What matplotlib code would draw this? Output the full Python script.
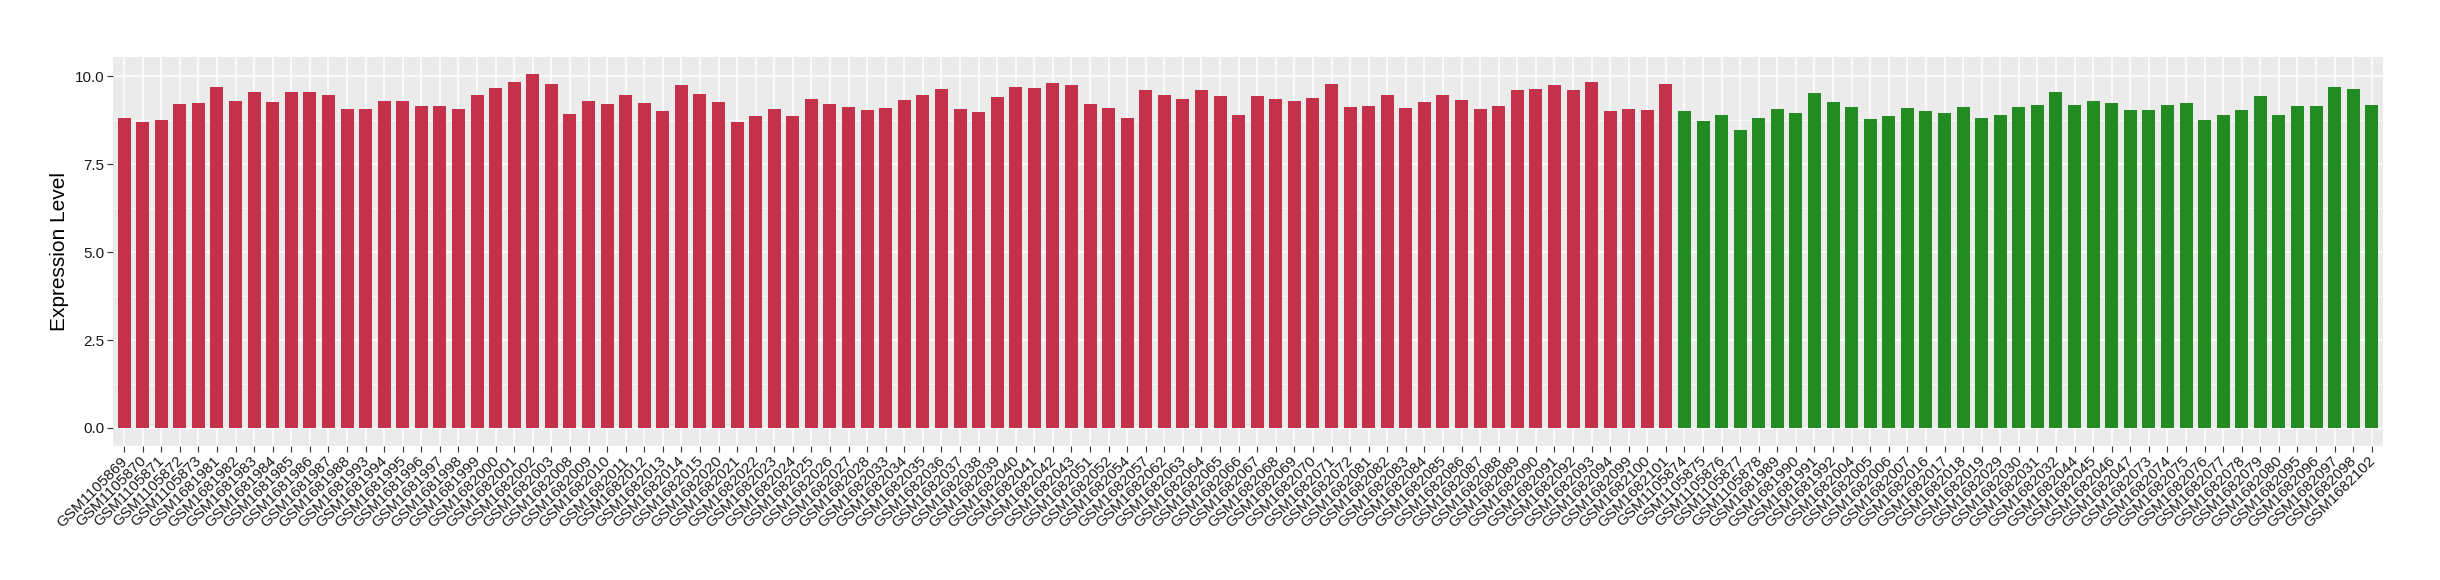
import matplotlib
matplotlib.use("Agg")
import matplotlib.pyplot as plt
import matplotlib.transforms as mtransforms
from matplotlib.ticker import MultipleLocator

# sample ids, in plotting order
red_samples = (
    ["GSM11058%d" % n for n in range(69, 74)]
    + ["GSM16819%02d" % n for n in range(81, 89)]
    + ["GSM1681993", "GSM1681994", "GSM1681995", "GSM1681996", "GSM1681997",
       "GSM1681998", "GSM1681999", "GSM1682000", "GSM1682001", "GSM1682002",
       "GSM1682003"]
    + ["GSM16820%02d" % n for n in range(8, 16)]
    + ["GSM16820%02d" % n for n in range(20, 29)]
    + ["GSM16820%02d" % n for n in range(33, 44)]
    + ["GSM1682051", "GSM1682052", "GSM1682054", "GSM1682057"]
    + ["GSM16820%02d" % n for n in range(62, 73)]
    + ["GSM16820%02d" % n for n in range(81, 95)]
    + ["GSM1682099", "GSM1682100", "GSM1682101"]
)
green_samples = (
    ["GSM11058%d" % n for n in range(74, 79)]
    + ["GSM1681989", "GSM1681990", "GSM1681991", "GSM1681992"]
    + ["GSM16820%02d" % n for n in range(4, 8)]
    + ["GSM16820%02d" % n for n in range(16, 20)]
    + ["GSM16820%02d" % n for n in range(29, 33)]
    + ["GSM16820%02d" % n for n in range(44, 48)]
    + ["GSM16820%02d" % n for n in range(73, 81)]
    + ["GSM16820%02d" % n for n in range(95, 99)]
    + ["GSM1682102"]
)

red_values = [
    8.81, 8.70, 8.75, 9.21, 9.24, 9.69, 9.29, 9.55, 9.26, 9.55,
    9.55, 9.46, 9.07, 9.07, 9.29, 9.29, 9.15, 9.15, 9.07, 9.46,
    9.66, 9.83, 10.06, 9.77, 8.92, 9.29, 9.21, 9.46, 9.24, 9.01,
    9.75, 9.49, 9.26, 8.70, 8.87, 9.07, 8.87, 9.35, 9.21, 9.12,
    9.04, 9.09, 9.32, 9.46, 9.63, 9.07, 8.98, 9.41, 9.69, 9.66,
    9.80, 9.75, 9.21, 9.09, 8.81, 9.60, 9.46, 9.35, 9.60, 9.43,
    8.90, 9.43, 9.35, 9.29, 9.38, 9.77, 9.12, 9.15, 9.46, 9.09,
    9.26, 9.46, 9.32, 9.07, 9.15, 9.60, 9.63, 9.75, 9.60, 9.83,
    9.01, 9.07, 9.04, 9.77,
]
green_values = [
    9.01, 8.73, 8.90, 8.47, 8.81, 9.07, 8.95, 9.52, 9.26, 9.12,
    8.78, 8.87, 9.09, 9.01, 8.95, 9.12, 8.81, 8.90, 9.12, 9.20,
    9.55, 9.20, 9.30, 9.25, 9.05, 9.05, 9.20, 9.25, 8.75, 8.90,
    9.05, 9.45, 8.90, 9.15, 9.15, 9.70, 9.65, 9.20,
]

RED = "#C3314A"
GREEN = "#228B22"

samples = red_samples + green_samples
values = red_values + green_values
colors = [RED] * len(red_samples) + [GREEN] * len(green_samples)
xs = list(range(1, len(samples) + 1))

plt.rcParams["font.family"] = ["Liberation Sans", "DejaVu Sans"]

fig = plt.figure(figsize=(24.4, 5.8), dpi=100)
ax = fig.add_axes([0.0463, 0.2316, 0.9303, 0.6706])
ax.set_facecolor("#EBEBEB")

ax.bar(xs, values, width=0.7, color=colors, zorder=3)

ax.set_xlim(0.4, len(samples) + 0.6)
ax.set_ylim(-0.503, 10.56)
ax.yaxis.set_major_locator(MultipleLocator(2.5))
ax.yaxis.set_minor_locator(MultipleLocator(1.25))
ax.yaxis.set_major_formatter(matplotlib.ticker.FormatStrFormatter("%.1f"))

ax.grid(which="major", color="white", lw=1.1, zorder=0)
ax.grid(which="minor", axis="y", color="white", lw=0.5, zorder=0)
ax.tick_params(which="minor", length=0)
ax.tick_params(which="major", length=4, width=0.8, color="#333333",
               labelcolor="#1a1a1a", labelsize=11, pad=2)

ax.set_xticks(xs)
ax.set_xticklabels(samples, rotation=45, ha="right", va="top")
offset = mtransforms.ScaledTranslation(6 / 100, 0, fig.dpi_scale_trans)
for lab in ax.get_xticklabels():
    lab.set_transform(lab.get_transform() + offset)

ax.set_ylabel("Expression Level", fontsize=15, labelpad=4)
for s in ax.spines.values():
    s.set_visible(False)

fig.savefig("out.png", dpi=100)
